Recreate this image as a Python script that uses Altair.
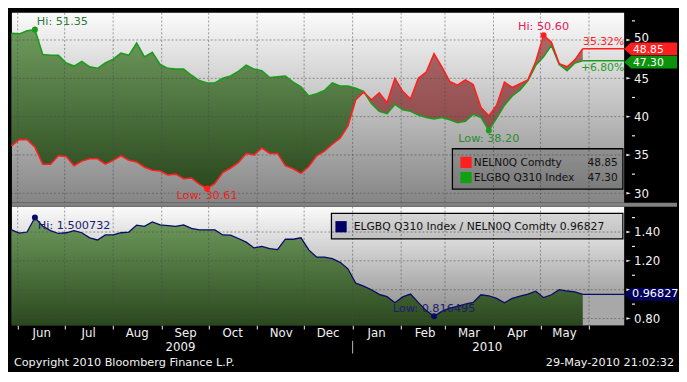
import altair as alt
import pandas as pd

# ------------------------------------------------------------------ data
dates = pd.date_range("2009-05-28", periods=74, freq="5D").strftime("%Y-%m-%d").tolist()

nel = [36.2, 37.0, 37.0, 36.0, 33.8, 33.8, 34.9, 34.8, 33.6, 34.2,
       34.5, 34.5, 33.8, 34.3, 34.9, 34.3, 34.1, 33.4, 33.0, 32.9,
       32.4, 32.5, 31.9, 32.0, 31.2, 30.61, 31.3, 32.7, 33.3, 34.0,
       35.2, 35.0, 35.9, 35.2, 35.2, 33.6, 33.2, 32.6, 33.5, 34.9,
       35.5, 36.4, 37.2, 38.8, 42.2, 43.2, 42.2, 43.1, 41.8, 45.0,
       43.3, 42.3, 45.0, 45.8, 48.2, 46.5, 44.6, 44.1, 44.8, 44.2,
       41.2, 40.1, 41.5, 44.5, 43.8, 44.3, 44.8, 47.2, 50.60, 49.7,
       46.9, 46.5, 47.4, 48.85]

elg = [50.86, 50.8, 51.2, 51.35, 48.1, 48.0, 48.0, 47.0, 46.6, 47.2,
       46.5, 46.3, 47.0, 47.5, 48.3, 48.0, 49.6, 47.8, 48.4, 46.8,
       46.3, 46.2, 46.2, 45.4, 44.7, 44.4, 44.4, 45.0, 45.3, 45.9,
       46.7, 46.2, 46.0, 45.1, 45.2, 45.3, 44.5, 43.9, 42.7, 43.0,
       43.4, 44.4, 44.0, 44.0, 43.7, 43.3, 41.7, 40.7, 40.4, 41.6,
       40.9, 40.7, 40.2, 39.9, 39.7, 39.9, 39.6, 39.2, 39.4, 40.3,
       39.9, 38.2, 39.8, 41.5, 42.7, 43.5, 44.7, 46.7, 47.8, 49.3,
       46.8, 46.0, 47.0, 47.30]

ratio = [1.415, 1.393, 1.40, 1.500732, 1.44, 1.41, 1.39, 1.395, 1.41, 1.395,
         1.36, 1.345, 1.38, 1.38, 1.395, 1.40, 1.448, 1.44, 1.47, 1.45,
         1.445, 1.44, 1.45, 1.425, 1.415, 1.415, 1.415, 1.38, 1.378, 1.355,
         1.33, 1.29, 1.30, 1.285, 1.278, 1.35, 1.35, 1.36, 1.276, 1.226,
         1.226, 1.215, 1.19, 1.145, 1.045, 1.025, 1.0, 0.968, 0.952, 0.91,
         0.95, 0.97, 0.91, 0.855, 0.816495, 0.85, 0.872, 0.885, 0.90, 0.912,
         0.965, 0.958, 0.94, 0.91, 0.94, 0.955, 0.97, 0.99, 0.945, 0.965,
         1.0, 0.991, 0.985, 0.96827]

month_starts = ["2009-06-01", "2009-07-01", "2009-08-01", "2009-09-01", "2009-10-01",
                "2009-11-01", "2009-12-01", "2010-01-01", "2010-02-01", "2010-03-01",
                "2010-04-01", "2010-05-01", "2010-06-01"]
top_major = [30, 35, 40, 45, 50]
top_minor = [32.5, 37.5, 42.5, 47.5, 52.5]
bot_major = [0.8, 1.0, 1.2, 1.4]
bot_labels = [0.8, 1.2, 1.4]          # 1.00 is hidden under the last-value tag
bot_minor = [0.9, 1.1, 1.3, 1.5]

series_names = ["NELN0Q Comdty", "ELGBQ Q310 Index"]
ratio_name = "ELGBQ Q310 Index / NELN0Q Comdty"
pct_labels = ["35.32%", "+6.80%"]
year_labels = ["2009", "2010"]
year_dates = ["2009-09-13", "2010-03-28"]
year_sep = ["2010-01-01"]
footer = ["Copyright 2010 Bloomberg Finance L.P.", "29-May-2010 21:02:32"]

# hi / low annotations (index into the series)
i_elg_hi, i_nel_lo, i_nel_hi, i_elg_lo = 3, 25, 68, 61
i_rat_hi, i_rat_lo = 3, 54

# ------------------------------------------------------------------ style
W, HT, HB = 625, 194, 121
YB_MIN, YB_MAX = 0.754, 1.576
FONT = "DejaVu Sans"
WHITE = "#f2f2f2"
RED = "#ff1f1f"
GREEN = "#1c9c1c"
NAVY = "#0a0a66"
TAG = "M0,0L1.1,-1L8.3,-1L8.3,1L1.1,1Z"
WEDGE = "M-1,-0.55L1,0L-1,0.55Z"


def grad(c0, c1):
    return alt.Gradient(gradient="linear",
                        stops=[alt.GradientStop(color=c0, offset=0),
                               alt.GradientStop(color=c1, offset=1)],
                        x1=0, x2=0, y1=0, y2=1)


bg_grad = grad("#fbfbfb", "#858585")
green_grad = grad("#6f9b5e", "#2a481d")
red_grad = grad("#ad6868", "#7c3a3a")

xscale = alt.Scale(type="utc", domain=[
    alt.DateTime(year=2009, month=5, date=28, hours=7, minutes=22, utc=True),
    alt.DateTime(year=2010, month=6, date=23, hours=11, minutes=17, utc=True)])

xvals = [alt.DateTime(year=int(m[:4]), month=int(m[5:7]), date=1, utc=True) for m in month_starts]
xaxis_bot = alt.Axis(values=xvals, orient="bottom", title=None, grid=False, domain=False,
                     tickSize=4, tickColor=WHITE, labelColor=WHITE, labelFont=FONT,
                     labelFontSize=12, labelOffset=24, labelPadding=8,
                     labelBaseline="alphabetic", labelFlush=False, labelOverlap=False,
                     labelExpr="(utcyear(datum.value) == 2010 && utcmonth(datum.value) == 5) ? '' : utcFormat(datum.value, '%b')")

yscale_top = alt.Scale(domain=[28.77, 53.56], zero=False, nice=False)
yscale_bot = alt.Scale(domain=[YB_MIN, YB_MAX], zero=False, nice=False)
yaxis_top = alt.Axis(orient="right", values=top_major, title=None, grid=False, domain=False,
                     ticks=False, tickSize=0, labelColor=WHITE, labelFont=FONT, labelFontSize=12,
                     labelPadding=9.5, labelOverlap=False, labelFlush=False, format="d",
                     labelOffset={"condition": {"test": "datum.value == 50", "value": -2.5}, "value": 0})
yaxis_bot = alt.Axis(orient="right", values=bot_labels, title=None, grid=False, domain=False,
                     ticks=False, tickSize=0, labelColor=WHITE, labelFont=FONT, labelFontSize=12,
                     labelPadding=9.5, labelOverlap=False, labelFlush=False, format=".2f")


def XT(f):
    return alt.X(f, type="temporal", scale=xscale, axis=None)


def XB(f):
    return alt.X(f, type="temporal", scale=xscale, axis=xaxis_bot)


def YT(f):
    return alt.Y(f, type="quantitative", scale=yscale_top, axis=yaxis_top)


def YB(f):
    return alt.Y(f, type="quantitative", scale=yscale_bot, axis=yaxis_bot)


one = pd.DataFrame({"a": [0]})
top_df = pd.DataFrame({"date": dates, "nel": nel, "elg": elg})
bot_df = pd.DataFrame({"date": dates, "ratio": ratio})
last_t = pd.DataFrame({"date": [dates[-1]], "nel": [nel[-1]], "elg": [elg[-1]],
                       "nel_t": [f"{nel[-1]:.2f}"], "elg_t": [f"{elg[-1]:.2f}"],
                       "p1": [pct_labels[0]], "p2": [pct_labels[1]]})
last_b = pd.DataFrame({"date": [dates[-1]], "ratio": [ratio[-1]], "t": [f"{ratio[-1]:.5f}"]})


def grid_rules(vals, yfun, xfun):
    h = alt.Chart(pd.DataFrame({"v": vals})).mark_rule(
        color="#4a4a4a", strokeDash=[2, 2], opacity=0.55, strokeWidth=1).encode(y=yfun("v"))
    v = alt.Chart(pd.DataFrame({"m": month_starts})).mark_rule(
        color="#4a4a4a", strokeDash=[2, 2], opacity=0.55, strokeWidth=1).encode(x=xfun("m"))
    return [h, v]


def axis_ticks(major, minor, yfun):
    wedge = alt.Chart(pd.DataFrame({"v": major})).mark_point(
        shape=WEDGE, filled=True, size=20, opacity=1, color=WHITE).encode(
        x=alt.value(W + 4.5), y=yfun("v"))
    small = alt.Chart(pd.DataFrame({"v": minor})).mark_rule(color=WHITE, strokeWidth=1.2).encode(
        x=alt.value(W + 8), x2=alt.value(W + 11), y=yfun("v"))
    return [wedge, small]


def marker(df_, xfun, yfun, field, idx, label, dot, tcol, align, dx, dy):
    d = pd.DataFrame({"date": [df_["date"][idx]], field: [df_[field][idx]], "t": [label]})
    p = alt.Chart(d).mark_circle(size=38, color=dot, opacity=1).encode(x=xfun("date"), y=yfun(field))
    t = alt.Chart(d).mark_text(align=align, baseline="middle", dx=dx, dy=dy, fontSize=11.5,
                               color=tcol).encode(x=xfun("date"), y=yfun(field), text="t:N")
    return [p, t]


# ------------------------------------------------------------------ top panel
band = alt.Chart(top_df).transform_calculate(lo="min(datum.nel, datum.elg)")
top_layers = [
    alt.Chart(one).mark_rect(color=bg_grad).encode(
        x=alt.value(0), x2=alt.value(W), y=alt.value(0), y2=alt.value(HT)),
    band.mark_area(color=green_grad).encode(x=XT("date"), y=YT("elg"), y2=alt.Y2("lo:Q")),
    band.mark_area(color=red_grad).encode(x=XT("date"), y=YT("nel"), y2=alt.Y2("lo:Q")),
]
top_layers += grid_rules(top_major, YT, XT)
top_layers += axis_ticks(top_major, top_minor, YT)
top_layers += [
    alt.Chart(top_df).mark_line(color=GREEN, strokeWidth=1.6).encode(x=XT("date"), y=YT("elg")),
    alt.Chart(top_df).mark_line(color=RED, strokeWidth=1.6).encode(x=XT("date"), y=YT("nel")),
    alt.Chart(last_t).mark_rule(color=RED, strokeWidth=1.5).encode(x=XT("date"), x2=alt.value(W), y=YT("nel")),
    alt.Chart(last_t).mark_rule(color=GREEN, strokeWidth=1.5).encode(x=XT("date"), x2=alt.value(W), y=YT("elg")),
    alt.Chart(last_t).mark_text(align="right", baseline="middle", dy=-7, fontSize=11, color=RED).encode(
        x=alt.value(W), y=YT("nel"), text="p1:N"),
    alt.Chart(last_t).mark_text(align="right", baseline="middle", dy=8, fontSize=11, color=GREEN).encode(
        x=alt.value(W), y=YT("elg"), text="p2:N"),
]
top_layers += marker(top_df, XT, YT, "elg", i_elg_hi, f"Hi: {elg[i_elg_hi]:.2f}", GREEN, "#2f7a3a", "left", 2, -8)
top_layers += marker(top_df, XT, YT, "nel", i_nel_lo, f"Low: {nel[i_nel_lo]:.2f}", RED, "#ee2020", "center", 0, 8)
top_layers += marker(top_df, XT, YT, "nel", i_nel_hi, f"Hi: {nel[i_nel_hi]:.2f}", RED, "#e0205a", "center", 0, -8)
top_layers += marker(top_df, XT, YT, "elg", i_elg_lo, f"Low: {elg[i_elg_lo]:.2f}", GREEN, "#2a8c2a", "center", 0, 9)

# legend box (top)
leg_rows = [(series_names[0], f"{nel[-1]:.2f}", RED, 152.8), (series_names[1], f"{elg[-1]:.2f}", "#10a010", 168.3)]
top_layers.append(alt.Chart(one).mark_rect(fill="black", fillOpacity=0.13, stroke="black", strokeWidth=1.3).encode(
    x=alt.value(449.7), x2=alt.value(623.7), y=alt.value(138.9), y2=alt.value(180.1)))
for name, val, col, yy in leg_rows:
    d = pd.DataFrame({"n": [name], "v": [val]})
    top_layers.append(alt.Chart(d).mark_square(size=132, color=col, opacity=1).encode(
        x=alt.value(463.6), y=alt.value(yy)))
    top_layers.append(alt.Chart(d).mark_text(align="left", baseline="middle", fontSize=10.8, color="#111").encode(
        x=alt.value(471.5), y=alt.value(yy + 0.5), text="n:N"))
    top_layers.append(alt.Chart(d).mark_text(align="right", baseline="middle", fontSize=10.8, color="#111").encode(
        x=alt.value(618.5), y=alt.value(yy + 0.5), text="v:N"))

# right-hand value tags
top_layers += [
    alt.Chart(last_t).mark_point(shape=TAG, filled=True, size=169, opacity=1, color=RED).encode(
        x=alt.value(W), y=YT("nel")),
    alt.Chart(last_t).mark_text(align="left", baseline="middle", fontSize=11, color="white", dy=1).encode(
        x=alt.value(W + 9), y=YT("nel"), text="nel_t:N"),
    alt.Chart(last_t).mark_point(shape=TAG, filled=True, size=169, opacity=1, color="#0b930b", yOffset=1.5).encode(
        x=alt.value(W), y=YT("elg")),
    alt.Chart(last_t).mark_text(align="left", baseline="middle", fontSize=11, color="white", dy=2).encode(
        x=alt.value(W + 9), y=YT("elg"), text="elg_t:N"),
]
top = alt.layer(*top_layers).properties(width=W, height=HT)

# ------------------------------------------------------------------ bottom panel
bot_layers = [
    alt.Chart(one).mark_rect(color=bg_grad).encode(
        x=alt.value(0), x2=alt.value(W), y=alt.value(0), y2=alt.value(HB)),
    alt.Chart(last_b).mark_rect(color="#a8a8a8").encode(
        x=XB("date"), x2=alt.value(W), y=YB("ratio"), y2=alt.datum(YB_MIN)),
    alt.Chart(bot_df).mark_area(color=green_grad).encode(x=XB("date"), y=YB("ratio"), y2=alt.datum(YB_MIN)),
]
bot_layers += grid_rules(bot_major, YB, XB)
bot_layers += axis_ticks(bot_major, bot_minor, YB)
bot_layers += [
    alt.Chart(bot_df).mark_line(color=NAVY, strokeWidth=1.3).encode(x=XB("date"), y=YB("ratio")),
    alt.Chart(last_b).mark_rule(color=NAVY, strokeWidth=1.3).encode(x=XB("date"), x2=alt.value(W), y=YB("ratio")),
]
bot_layers += marker(bot_df, XB, YB, "ratio", i_rat_hi, f"Hi: {ratio[i_rat_hi]:.6f}", NAVY, "#1c1c70", "left", 3, 9)
bot_layers += marker(bot_df, XB, YB, "ratio", i_rat_lo, f"Low: {ratio[i_rat_lo]:.6f}", NAVY, "#1c1c70", "center", 0, -7)

# legend box (bottom)
lb = pd.DataFrame({"n": [f"{ratio_name} {ratio[-1]:.5f}"]})
bot_layers += [
    alt.Chart(one).mark_rect(fill="black", fillOpacity=0.12, stroke="black", strokeWidth=1.3).encode(
        x=alt.value(326.2), x2=alt.value(623.7), y=alt.value(6.9), y2=alt.value(32.9)),
    alt.Chart(lb).mark_square(size=132, color="#000066", opacity=1).encode(x=alt.value(336), y=alt.value(20.5)),
    alt.Chart(lb).mark_text(align="left", baseline="middle", fontSize=11, color="#111").encode(
        x=alt.value(348.9), y=alt.value(21), text="n:N"),
]
# tag
bot_layers += [
    alt.Chart(last_b).mark_point(shape=TAG, filled=True, size=169, opacity=1, color="#00005c").encode(
        x=alt.value(W), y=YB("ratio")),
    alt.Chart(last_b).mark_text(align="left", baseline="middle", fontSize=11.5, color="white").encode(
        x=alt.value(W + 8), y=YB("ratio"), text="t:N"),
]
# separator stripe between panels
bot_layers.append(alt.Chart(one).mark_rect(color="#808080").encode(
    x=alt.value(0), x2=alt.value(679), y=alt.value(-4), y2=alt.value(0)))
# year labels, separator, footer
yl = pd.DataFrame({"d": year_dates, "t": year_labels})
bot_layers += [
    alt.Chart(yl).mark_text(baseline="middle", fontSize=12, color=WHITE).encode(
        x=XB("d"), y=alt.value(HB + 22), text="t:N"),
    alt.Chart(pd.DataFrame({"d": year_sep})).mark_rule(color="#bbbbbb", strokeWidth=1).encode(
        x=XB("d"), y=alt.value(HB + 16), y2=alt.value(HB + 29)),
    alt.Chart(pd.DataFrame({"t": [footer[0]]})).mark_text(align="left", baseline="middle", fontSize=11.5,
                                                         color=WHITE).encode(
        x=alt.value(2), y=alt.value(HB + 38.5), text="t:N"),
    alt.Chart(pd.DataFrame({"t": [footer[1]]})).mark_text(align="right", baseline="middle", fontSize=11.5,
                                                         color=WHITE).encode(
        x=alt.value(676), y=alt.value(HB + 38.5), text="t:N"),
]
bot = alt.layer(*bot_layers).properties(width=W, height=HB)

chart = alt.vconcat(top, bot, spacing=4, bounds="flush").properties(
    padding=0, background="black"
).configure_view(stroke=None).configure_text(font=FONT)

chart.save("out.html", embed_options={"renderer": "svg", "actions": False})
